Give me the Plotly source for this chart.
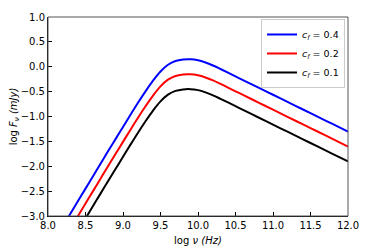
import plotly.graph_objects as go

log_nu = [8.2, 8.3, 8.4, 8.5, 8.6, 8.7, 8.8, 8.9, 9.0, 9.1, 9.2, 9.3, 9.4, 9.5, 9.6, 9.7,
          9.8, 9.9, 10.0, 10.1, 10.2, 10.3, 10.4, 10.5, 10.6, 10.8, 11.0, 11.2, 11.4,
          11.6, 11.8, 12.0]
flux_cf04 = [-3.20, -2.95, -2.70, -2.45, -2.20, -1.95, -1.70, -1.455, -1.21, -0.965, -0.725,
             -0.495, -0.28, -0.095, 0.04, 0.115, 0.145, 0.15, 0.13, 0.085, 0.025, -0.045,
             -0.118, -0.193, -0.267, -0.415, -0.563, -0.711, -0.859, -1.007, -1.155, -1.303]
flux_cf02 = [-3.50, -3.25, -3.00, -2.75, -2.50, -2.25, -2.00, -1.755, -1.51, -1.265, -1.025,
             -0.795, -0.58, -0.395, -0.26, -0.185, -0.155, -0.15, -0.17, -0.215, -0.275,
             -0.345, -0.418, -0.493, -0.567, -0.715, -0.863, -1.011, -1.159, -1.307, -1.455,
             -1.603]
flux_cf01 = [-3.80, -3.55, -3.30, -3.05, -2.80, -2.55, -2.30, -2.055, -1.81, -1.565, -1.325,
             -1.095, -0.88, -0.695, -0.56, -0.485, -0.455, -0.45, -0.47, -0.515, -0.575,
             -0.645, -0.718, -0.793, -0.867, -1.015, -1.163, -1.311, -1.459, -1.607, -1.755,
             -1.903]
labels = ["<i>c<sub>f</sub></i> = 0.4", "<i>c<sub>f</sub></i> = 0.2", "<i>c<sub>f</sub></i> = 0.1"]
colors = ["#0000ff", "#ff0000", "#000000"]

fig = go.Figure()
for ys, lab, col in zip([flux_cf04, flux_cf02, flux_cf01], labels, colors):
    fig.add_trace(go.Scatter(x=log_nu, y=ys, mode="lines", name=lab,
                             line=dict(color=col, width=2, shape="spline", smoothing=1)))

font = dict(family="DejaVu Sans", size=10, color="#000000")
fig.update_layout(
    width=374, height=249,
    margin=dict(l=48, r=26, t=17, b=33),
    paper_bgcolor="white", plot_bgcolor="white",
    font=font,
    showlegend=True,
    legend=dict(x=0.99, y=0.99, xanchor="right", yanchor="top",
                bordercolor="#cccccc", borderwidth=1, bgcolor="white",
                font=dict(family="DejaVu Sans", size=9.5, color="#000000"),
                itemwidth=30, tracegroupgap=0),
    shapes=[dict(type="rect", xref="paper", yref="paper", x0=0, y0=0, x1=1, y1=1,
                 line=dict(color="#555555", width=1), layer="above")],
)
fig.update_xaxes(range=[8, 12], dtick=0.5, tick0=8, tickformat=".1f", automargin=False,
                 ticks="inside", ticklen=4, tickcolor="black", showgrid=False,
                 zeroline=False, showline=True, linecolor="black", linewidth=1,
                 title=dict(text="log <i>ν</i> <i>(Hz)</i>", standoff=6,
                            font=dict(family="DejaVu Sans", size=10)))
fig.update_yaxes(range=[-3, 1], dtick=0.5, tick0=-3, tickformat=".1f", automargin=False,
                 ticks="inside", ticklen=4, tickcolor="black", showgrid=False,
                 zeroline=False, showline=True, linecolor="black", linewidth=1,
                 title=dict(text="log <i>F<sub>ν</sub></i> <i>(mJy)</i>", standoff=0,
                            font=dict(family="DejaVu Sans", size=10)))

fig.write_html("out.html", config={"displayModeBar": False},
               post_script="document.body.style.margin='0';document.body.style.overflow='hidden';")
